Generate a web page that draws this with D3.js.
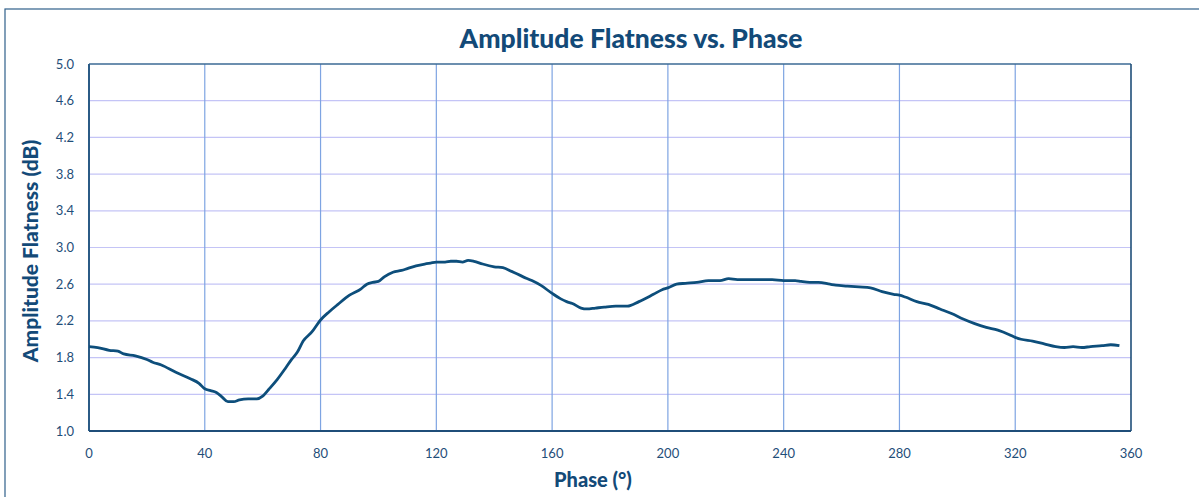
<!DOCTYPE html>
<html>
<head>
<meta charset="utf-8">
<script src="https://cdn.jsdelivr.net/npm/d3@7"></script>
<style>
  body { margin: 0; background: #fff; }
  svg text { font-family: Lato, "Open Sans", sans-serif; fill: #1f4e79; }
</style>
</head>
<body>
<svg width="1199" height="497"></svg>
<script>
// phase in degrees, flatness in dB
var phase = [0, 3, 7, 10, 12, 16, 20, 22, 25, 30, 35, 38, 40, 42, 44, 46, 48, 50, 52, 55, 58, 60, 62, 65, 68, 70, 72, 74, 77, 80,
    83, 86, 90, 94, 96, 98, 100, 102, 105, 108, 110, 113, 116, 118, 120, 123, 125, 127, 129, 131, 133, 136, 140, 143, 146, 150,
    153, 156, 160, 163, 165, 167, 170, 172, 175, 178, 182, 186, 190, 195, 198, 200, 203, 206, 210, 214, 218, 221, 224, 228,
    232, 236, 240, 244, 246, 249, 252, 256, 258, 262, 266, 270, 274, 278, 280, 282, 286, 290, 294, 298, 302, 306, 310, 314,
    318, 320, 322, 326, 330, 334, 337, 340, 343, 346, 350, 353, 356];
var flatness = [1.92, 1.91, 1.88, 1.87, 1.84, 1.82, 1.78, 1.75, 1.72, 1.64, 1.57, 1.52, 1.46, 1.44, 1.42, 1.37, 1.32, 1.32, 1.34, 1.35, 1.35, 1.38, 1.45, 1.56, 1.69, 1.78, 1.86, 1.98, 2.08, 2.21,
    2.30, 2.38, 2.48, 2.55, 2.60, 2.62, 2.63, 2.68, 2.73, 2.75, 2.77, 2.80, 2.82, 2.83, 2.84, 2.84, 2.85, 2.85, 2.84, 2.86, 2.85, 2.82, 2.79, 2.78, 2.74, 2.68,
    2.64, 2.59, 2.50, 2.44, 2.41, 2.39, 2.34, 2.33, 2.34, 2.35, 2.36, 2.36, 2.41, 2.49, 2.54, 2.56, 2.60, 2.61, 2.62, 2.64, 2.64, 2.66, 2.65, 2.65,
    2.65, 2.65, 2.64, 2.64, 2.63, 2.62, 2.62, 2.60, 2.59, 2.58, 2.57, 2.56, 2.52, 2.49, 2.48, 2.46, 2.41, 2.38, 2.33, 2.28, 2.22, 2.17, 2.13, 2.10,
    2.05, 2.02, 2.00, 1.98, 1.95, 1.92, 1.91, 1.92, 1.91, 1.92, 1.93, 1.94, 1.93];
var xTicks = [0, 40, 80, 120, 160, 200, 240, 280, 320, 360];
var yTicks = [1.0, 1.4, 1.8, 2.2, 2.6, 3.0, 3.4, 3.8, 4.2, 4.6, 5.0];

var data = phase.map(function (p, i) { return { p: p, v: flatness[i] }; });

var svg = d3.select("svg");
var margin = { top: 64, left: 89, right: 68, bottom: 66 };
var width = 1199 - margin.left - margin.right,
    height = 497 - margin.top - margin.bottom;

// outer chart frame (runs off the right/bottom)
svg.append("rect").attr("x", 5).attr("y", 9).attr("width", 1210).attr("height", 500)
    .attr("fill", "none").attr("stroke", "#2f5f8a").attr("stroke-width", 1.2);

var x = d3.scaleLinear().domain([0, 360]).range([0, width]);
var y = d3.scaleLinear().domain([1, 5]).range([height, 0]);

var g = svg.append("g").attr("transform", "translate(" + margin.left + "," + margin.top + ")");

// horizontal grid
g.selectAll(".hgrid").data(yTicks.slice(1, -1)).enter().append("line")
    .attr("x1", 0).attr("x2", width)
    .attr("y1", function (d) { return y(d); }).attr("y2", function (d) { return y(d); })
    .attr("stroke", "#c4c4f6").attr("stroke-width", 1.2);

// vertical grid
g.selectAll(".vgrid").data(xTicks.slice(1, -1)).enter().append("line")
    .attr("y1", 0).attr("y2", height)
    .attr("x1", function (d) { return x(d); }).attr("x2", function (d) { return x(d); })
    .attr("stroke", "#7ea4e2").attr("stroke-width", 1.2);

// plot border
g.append("line").attr("x1", 0).attr("x2", width).attr("y1", 0).attr("y2", 0)
    .attr("stroke", "#3b6a95").attr("stroke-width", 1.6);
g.append("line").attr("x1", width).attr("x2", width).attr("y1", 0).attr("y2", height)
    .attr("stroke", "#1f4e79").attr("stroke-width", 1.6);
g.append("line").attr("x1", 0).attr("x2", 0).attr("y1", 0).attr("y2", height)
    .attr("stroke", "#2b5b86").attr("stroke-width", 2);
g.append("line").attr("x1", 0).attr("x2", width).attr("y1", height).attr("y2", height)
    .attr("stroke", "#1f4e79").attr("stroke-width", 2.2);

// tick labels
g.selectAll(".ylab").data(yTicks).enter().append("text")
    .attr("x", -15).attr("y", function (d) { return y(d) + 4.5; })
    .attr("text-anchor", "end").style("font-size", "13px")
    .text(function (d) { return d.toFixed(1); });

g.selectAll(".xlab").data(xTicks).enter().append("text")
    .attr("x", function (d) { return x(d); }).attr("y", height + 27)
    .attr("text-anchor", "middle").style("font-size", "13px")
    .text(function (d) { return d; });

// the curve
var line = d3.line()
    .x(function (d) { return x(d.p); })
    .y(function (d) { return y(d.v); })
    .curve(d3.curveMonotoneX);

g.append("path").datum(data)
    .attr("d", line)
    .attr("fill", "none").attr("stroke", "#0d4e7b").attr("stroke-width", 2.8)
    .attr("stroke-linejoin", "round");

// titles
svg.append("text").attr("x", 631).attr("y", 48).attr("text-anchor", "middle")
    .style("font-size", "26.5px").style("font-weight", "900").style("fill", "#134a78")
    .text("Amplitude Flatness vs. Phase");

svg.append("text").attr("x", 593).attr("y", 487).attr("text-anchor", "middle")
    .style("font-size", "20px").style("font-weight", "900").style("fill", "#134a78")
    .text("Phase (°)");

svg.append("text").attr("transform", "translate(38,251) rotate(-90)")
    .attr("text-anchor", "middle")
    .style("font-size", "21px").style("font-weight", "900").style("fill", "#134a78")
    .text("Amplitude Flatness (dB)");
</script>
</body>
</html>
